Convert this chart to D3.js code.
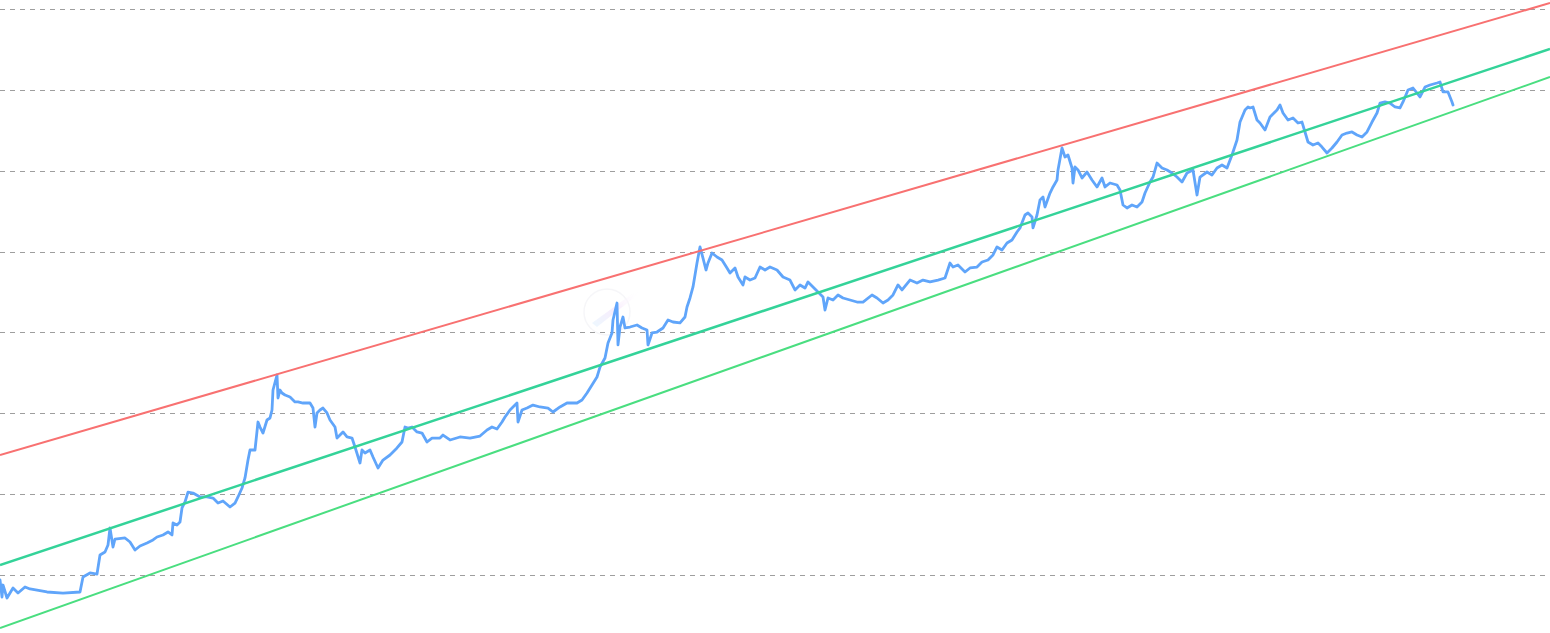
<!DOCTYPE html>
<html>
<head>
<meta charset="utf-8">
<script src="https://cdn.jsdelivr.net/npm/d3@7"></script>
<style>
  html, body { margin: 0; padding: 0; background: #ffffff; overflow: hidden; }
  svg { display: block; }
</style>
</head>
<body>
<svg id="chart" width="1550" height="633"></svg>
<script>
// ---- Data (time in years from chart start, value in log-levels; grid at each integer level) ----
const gridLevels = [0, 1, 2, 3, 4, 5, 6, 7];
const timeDomain = [0, 15.5];

// Regression bands: value at start and end of the time domain
const bandNames  = ["upper", "middle", "lower"];
const bandStart  = [1.484, 0.124, -0.655];
const bandEnd    = [7.074, 6.505, 6.159];

const seriesT = [
  0.00,0.02,0.03,0.07,0.13,0.18,0.25,0.30,0.47,0.63,0.80,0.83,0.90,0.97,1.00,1.05,1.08,1.10,1.13,1.15,
  1.25,1.30,1.35,1.40,1.47,1.53,1.57,1.63,1.68,1.72,1.73,1.77,1.80,1.82,1.85,1.88,1.93,2.00,2.07,2.13,
  2.18,2.23,2.30,2.35,2.38,2.42,2.45,2.48,2.50,2.55,2.58,2.60,2.63,2.67,2.70,2.72,2.73,2.77,2.78,2.80,
  2.82,2.85,2.90,2.95,2.98,3.03,3.10,3.13,3.15,3.17,3.20,3.23,3.27,3.30,3.35,3.37,3.40,3.43,3.47,3.52,
  3.55,3.60,3.62,3.65,3.70,3.73,3.78,3.83,3.90,3.97,4.02,4.05,4.08,4.12,4.17,4.22,4.27,4.32,4.40,4.43,
  4.50,4.60,4.70,4.80,4.87,4.92,4.97,5.02,5.05,5.10,5.17,5.18,5.22,5.27,5.33,5.40,5.48,5.53,5.60,5.67,
  5.77,5.82,5.87,5.92,5.97,6.00,6.05,6.08,6.12,6.13,6.17,6.18,6.20,6.23,6.25,6.30,6.37,6.42,6.47,6.48,
  6.52,6.57,6.63,6.68,6.73,6.80,6.85,6.87,6.90,6.93,6.97,7.00,7.03,7.06,7.08,7.12,7.17,7.22,7.27,7.30,
  7.35,7.38,7.43,7.45,7.50,7.55,7.60,7.65,7.70,7.77,7.83,7.90,7.95,8.00,8.05,8.08,8.13,8.18,8.23,8.25,
  8.28,8.33,8.38,8.43,8.50,8.57,8.63,8.72,8.77,8.83,8.88,8.93,8.98,9.02,9.10,9.17,9.23,9.30,9.38,9.45,
  9.50,9.53,9.58,9.65,9.70,9.77,9.82,9.88,9.93,9.97,10.02,10.07,10.12,10.17,10.20,10.25,10.28,10.32,10.33,10.37,
  10.40,10.43,10.45,10.50,10.53,10.57,10.58,10.62,10.65,10.68,10.72,10.73,10.75,10.78,10.82,10.87,10.92,10.97,11.02,11.05,
  11.10,11.17,11.20,11.23,11.27,11.32,11.37,11.42,11.45,11.50,11.53,11.57,11.62,11.67,11.72,11.77,11.82,11.87,11.93,11.97,
  12.00,12.07,12.12,12.17,12.22,12.27,12.32,12.37,12.40,12.45,12.48,12.50,12.53,12.57,12.60,12.65,12.70,12.77,12.80,12.83,
  12.88,12.93,12.98,13.02,13.05,13.08,13.13,13.18,13.22,13.27,13.32,13.37,13.42,13.47,13.52,13.57,13.62,13.67,13.72,13.77,
  13.80,13.85,13.90,13.95,14.00,14.03,14.08,14.13,14.20,14.25,14.30,14.37,14.40,14.43,14.48,14.52,14.53
];
const seriesV = [
  -0.062,-0.272,-0.124,-0.284,-0.161,-0.223,-0.148,-0.173,-0.210,-0.223,-0.210,-0.025,0.025,0.012,0.247,0.284,0.371,0.581,0.346,0.445,
  0.458,0.408,0.309,0.359,0.396,0.433,0.470,0.495,0.532,0.495,0.643,0.618,0.655,0.829,0.903,1.026,1.014,0.965,0.965,0.952,
  0.890,0.915,0.841,0.890,0.965,1.076,1.200,1.422,1.546,1.546,1.892,1.830,1.756,1.917,1.942,2.041,2.288,2.473,2.189,2.288,
  2.251,2.226,2.201,2.140,2.140,2.127,2.127,2.065,1.830,2.004,2.041,2.065,2.004,1.917,1.830,1.694,1.731,1.769,1.707,1.694,
  1.583,1.385,1.546,1.509,1.546,1.459,1.323,1.422,1.484,1.571,1.645,1.830,1.818,1.830,1.769,1.756,1.645,1.694,1.694,1.731,
  1.670,1.707,1.694,1.719,1.793,1.830,1.806,1.892,1.954,2.041,2.127,1.892,2.041,2.065,2.102,2.078,2.065,2.016,2.078,2.127,
  2.127,2.164,2.251,2.350,2.449,2.572,2.684,2.869,2.993,3.154,3.364,2.845,3.067,3.191,3.055,3.067,3.092,3.055,3.030,2.845,
  2.993,3.005,3.055,3.154,3.129,3.117,3.191,3.314,3.426,3.562,3.859,4.057,3.920,3.772,3.859,3.982,3.933,3.896,3.797,3.735,
  3.797,3.686,3.587,3.686,3.648,3.673,3.809,3.772,3.809,3.772,3.686,3.648,3.525,3.587,3.549,3.624,3.562,3.500,3.438,3.277,
  3.426,3.401,3.463,3.426,3.401,3.376,3.376,3.463,3.426,3.364,3.401,3.463,3.587,3.525,3.648,3.611,3.648,3.624,3.648,3.673,
  3.859,3.809,3.834,3.747,3.797,3.809,3.871,3.896,3.958,4.057,4.019,4.106,4.143,4.242,4.292,4.452,4.477,4.428,4.292,4.452,
  4.638,4.675,4.551,4.724,4.799,4.885,5.009,5.281,5.170,5.194,5.034,4.848,5.046,5.009,4.910,4.984,4.885,4.799,4.910,4.799,
  4.848,4.823,4.761,4.576,4.539,4.576,4.551,4.613,4.724,4.860,4.922,5.095,5.034,5.009,4.972,4.922,4.860,4.972,5.009,4.700,
  4.922,4.984,4.947,5.034,5.071,5.034,5.194,5.380,5.602,5.751,5.788,5.776,5.788,5.627,5.590,5.504,5.664,5.751,5.813,5.714,
  5.627,5.652,5.590,5.602,5.479,5.355,5.318,5.343,5.293,5.219,5.281,5.355,5.442,5.466,5.479,5.442,5.417,5.479,5.602,5.714,
  5.837,5.850,5.837,5.788,5.776,5.850,5.998,6.023,5.912,6.035,6.060,6.085,6.097,5.974,5.974,5.850,5.813
];

// ---- Chart ----
const W = 1550, H = 633;
const svg = d3.select("#chart");
svg.append("rect").attr("width", W).attr("height", H).attr("fill", "#ffffff");

const x = d3.scaleLinear().domain(timeDomain).range([0, W]);
const y = d3.scaleLinear().domain([0, 7]).range([575, 9]);

// Grid lines via an axis
const gridAxis = d3.axisLeft(y).tickValues(gridLevels).tickSize(-W).tickFormat("");
const g = svg.append("g").attr("class", "grid").call(gridAxis);
g.select(".domain").remove();
g.selectAll(".tick line")
  .attr("stroke", "#9e9e9e")
  .attr("stroke-width", 1)
  .attr("stroke-dasharray", "5,5")
  .attr("shape-rendering", "crispEdges");

// Watermark (faint)
const wm = svg.append("g").attr("opacity", 0.25);
const grad = svg.append("defs").append("linearGradient")
  .attr("id", "streak").attr("x1", "0").attr("y1", "1").attr("x2", "1").attr("y2", "0");
grad.append("stop").attr("offset", "0").attr("stop-color", "#b9e6ff");
grad.append("stop").attr("offset", "0.5").attr("stop-color", "#e5b8f5");
grad.append("stop").attr("offset", "1").attr("stop-color", "#ffffff").attr("stop-opacity", 0);
wm.append("circle").attr("cx", 607).attr("cy", 312).attr("r", 23)
  .attr("fill", "none").attr("stroke", "#dcdce6").attr("stroke-width", 1.5);
wm.append("path").attr("d", "M592,323 L636,291 L640,293 L597,327 Z").attr("fill", "url(#streak)");

// Price series
const pts = seriesT.map((t, i) => [t, seriesV[i]]);
const line = d3.line().x(d => x(d[0])).y(d => y(d[1])).curve(d3.curveLinear);
svg.append("path")
  .datum(pts)
  .attr("d", line)
  .attr("fill", "none")
  .attr("stroke", "#60a5fa")
  .attr("stroke-width", 2.8)
  .attr("stroke-linejoin", "round")
  .attr("stroke-linecap", "round");

// Bands
const bandColors = ["#f87171", "#34d399", "#4ade80"];
const bandWidths = [2, 2.5, 2];
bandNames.forEach((name, i) => {
  svg.append("path")
    .datum([[timeDomain[0], bandStart[i]], [timeDomain[1], bandEnd[i]]])
    .attr("class", "band-" + name)
    .attr("d", line)
    .attr("fill", "none")
    .attr("stroke", bandColors[i])
    .attr("stroke-width", bandWidths[i]);
});
</script>
</body>
</html>
